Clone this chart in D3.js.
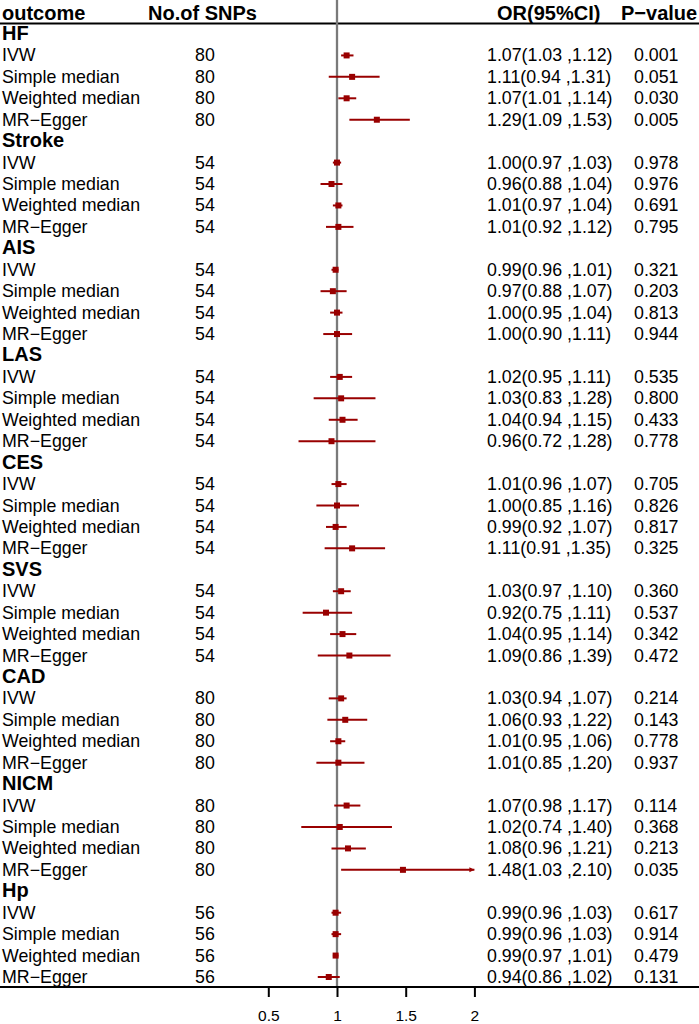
<!DOCTYPE html>
<html>
<head>
<meta charset="utf-8">
<script src="https://cdn.jsdelivr.net/npm/d3@7"></script>
<style>
  html, body { margin: 0; padding: 0; background: #fff; }
  svg { display: block; font-family: "Liberation Sans", Arial, sans-serif; }
</style>
</head>
<body>
<svg id="chart" width="699" height="1024"></svg>
<script>
// outcomes and methods, in row order
var outcomes = ['HF', 'Stroke', 'AIS', 'LAS', 'CES', 'SVS', 'CAD', 'NICM', 'Hp'];
var methods = ['IVW', 'Simple median', 'Weighted median', 'MR\u2212Egger'];
var nSnps = [80, 54, 54, 54, 54, 54, 80, 80, 56];

// one entry per outcome x method (4 per outcome)
var orValues = [
  1.07, 1.11, 1.07, 1.29,
  1.00, 0.96, 1.01, 1.01,
  0.99, 0.97, 1.00, 1.00,
  1.02, 1.03, 1.04, 0.96,
  1.01, 1.00, 0.99, 1.11,
  1.03, 0.92, 1.04, 1.09,
  1.03, 1.06, 1.01, 1.01,
  1.07, 1.02, 1.08, 1.48,
  0.99, 0.99, 0.99, 0.94
];
var ciLower = [
  1.03, 0.94, 1.01, 1.09,
  0.97, 0.88, 0.97, 0.92,
  0.96, 0.88, 0.95, 0.90,
  0.95, 0.83, 0.94, 0.72,
  0.96, 0.85, 0.92, 0.91,
  0.97, 0.75, 0.95, 0.86,
  0.94, 0.93, 0.95, 0.85,
  0.98, 0.74, 0.96, 1.03,
  0.96, 0.96, 0.97, 0.86
];
var ciUpper = [
  1.12, 1.31, 1.14, 1.53,
  1.03, 1.04, 1.04, 1.12,
  1.01, 1.07, 1.04, 1.11,
  1.11, 1.28, 1.15, 1.28,
  1.07, 1.16, 1.07, 1.35,
  1.10, 1.11, 1.14, 1.39,
  1.07, 1.22, 1.06, 1.20,
  1.17, 1.40, 1.21, 2.10,
  1.03, 1.03, 1.01, 1.02
];
var pValues = [
  '0.001', '0.051', '0.030', '0.005',
  '0.978', '0.976', '0.691', '0.795',
  '0.321', '0.203', '0.813', '0.944',
  '0.535', '0.800', '0.433', '0.778',
  '0.705', '0.826', '0.817', '0.325',
  '0.360', '0.537', '0.342', '0.472',
  '0.214', '0.143', '0.778', '0.937',
  '0.114', '0.368', '0.213', '0.035',
  '0.617', '0.914', '0.479', '0.131'
];
var xTicks = [0.5, 1, 1.5, 2];

var W = 699, H = 1024;
var red = '#990000';
var svg = d3.select('#chart');

var x = d3.scaleLinear().domain([0.5, 2]).range([268.3, 474.4]);
var xClip = 2;
// baseline of each text row (row 0 = first outcome label)
var rowY = d3.scaleLinear().domain([0, 44]).range([40, 983]);
var axisY = 987;

// build rows
var rows = [];
outcomes.forEach(function(o, g) {
  rows.push({type: 'group', label: o, row: g * 5});
  methods.forEach(function(m, k) {
    var i = g * 4 + k;
    rows.push({
      type: 'item', label: m, row: g * 5 + k + 1, n: nSnps[g],
      or: orValues[i], lo: ciLower[i], hi: ciUpper[i], p: pValues[i]
    });
  });
});
var items = rows.filter(function(d) { return d.type === 'item'; });

// header
var header = svg.append('g').attr('font-weight', 'bold').style('font-size', '20px');
header.append('text').attr('x', 2).attr('y', 20).text('outcome');
header.append('text').attr('x', 148).attr('y', 20).text('No.of SNPs');
header.append('text').attr('x', 497).attr('y', 20).text('OR(95%CI)');
header.append('text').attr('x', 621).attr('y', 20).text('P\u2212value');
svg.append('line')
  .attr('x1', 0).attr('x2', W).attr('y1', 23.5).attr('y2', 23.5)
  .attr('stroke', '#000').attr('stroke-width', 2);

// reference line at OR = 1
svg.append('line')
  .attr('x1', x(1)).attr('x2', x(1)).attr('y1', 0).attr('y2', axisY)
  .attr('stroke', '#7a7a7a').attr('stroke-width', 2.3);

// text columns
var txt = svg.append('g').style('font-size', '17.8px').attr('fill', '#000');
txt.selectAll('text.label').data(rows).enter().append('text')
  .attr('class', 'label')
  .attr('x', 2)
  .attr('y', function(d) { return rowY(d.row); })
  .attr('font-weight', function(d) { return d.type === 'group' ? 'bold' : null; })
  .style('font-size', function(d) { return d.type === 'group' ? '20px' : null; })
  .text(function(d) { return d.label; });
txt.selectAll('text.n').data(items).enter().append('text')
  .attr('x', 195).attr('y', function(d) { return rowY(d.row); })
  .text(function(d) { return d.n; });
txt.selectAll('text.or').data(items).enter().append('text')
  .attr('x', 487).attr('y', function(d) { return rowY(d.row); })
  .text(function(d) {
    return d.or.toFixed(2) + '(' + d.lo.toFixed(2) + ' ,' + d.hi.toFixed(2) + ')';
  });
txt.selectAll('text.p').data(items).enter().append('text')
  .attr('x', 634).attr('y', function(d) { return rowY(d.row); })
  .text(function(d) { return d.p; });

// CI lines and boxes
var marks = svg.append('g');
function cy(d) { return rowY(d.row) - 6; }
marks.selectAll('line.ci').data(items).enter().append('line')
  .attr('x1', function(d) { return x(d.lo); })
  .attr('x2', function(d) { return x(Math.min(d.hi, xClip)); })
  .attr('y1', cy).attr('y2', cy)
  .attr('stroke', red).attr('stroke-width', 2);
// arrow for clipped upper limits
marks.selectAll('path.arrow').data(items.filter(function(d) { return d.hi > xClip; }))
  .enter().append('path')
  .attr('d', function(d) {
    var ax = x(xClip), ay = cy(d);
    return 'M' + (ax - 5) + ',' + (ay - 2.5) + 'L' + ax + ',' + ay + 'L' + (ax - 5) + ',' + (ay + 2.5) + 'Z';
  })
  .attr('fill', red);
var bs = 6;
marks.selectAll('rect.box').data(items).enter().append('rect')
  .attr('x', function(d) { return x(d.or) - bs / 2; })
  .attr('y', function(d) { return cy(d) - bs / 2; })
  .attr('width', bs).attr('height', bs)
  .attr('fill', red);

// bottom axis
svg.append('line')
  .attr('x1', 0).attr('x2', W).attr('y1', axisY).attr('y2', axisY)
  .attr('stroke', '#000').attr('stroke-width', 2);
var axis = svg.append('g')
  .attr('transform', 'translate(0,' + axisY + ')')
  .call(d3.axisBottom(x).tickValues(xTicks).tickSize(10).tickPadding(13)
    .tickFormat(function(d) { return String(d); }));
axis.select('.domain').remove();
axis.selectAll('line').attr('stroke', '#000').attr('stroke-width', 2);
axis.selectAll('text')
  .attr('fill', '#000')
  .style('font-size', '15.5px')
  .style('font-family', '"Liberation Sans", Arial, sans-serif');
</script>
</body>
</html>
